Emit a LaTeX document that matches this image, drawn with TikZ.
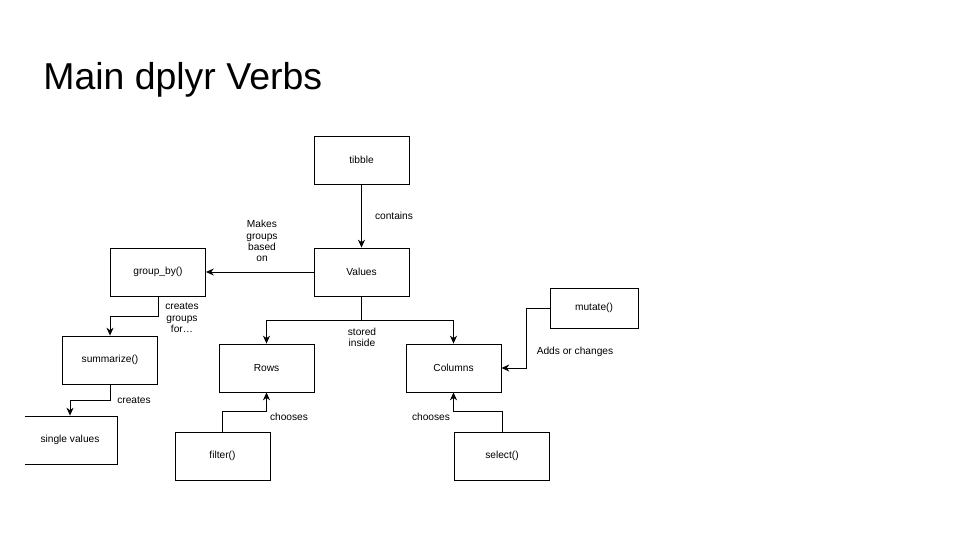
\documentclass[tikz,border=0pt]{standalone}
\usepackage{fontspec}
\setmainfont{Liberation Sans}
\usetikzlibrary{arrows.meta,positioning,calc}

\tikzset{
  verb/.style={draw, line width=0.5pt, minimum width=1.9cm, minimum height=0.96cm, inner sep=0pt, font=\fontsize{5.8}{7}\selectfont},
  lbl/.style={align=center, inner sep=0pt, font=\fontsize{5.8}{6.4}\selectfont},
  link/.style={line width=0.5pt, -{Stealth[length=4.5pt,width=4pt]}}
}

\begin{document}
\begin{tikzpicture}[x=0.02cm,y=-0.02cm]
\useasboundingbox (0,0) rectangle (960,540);

\node[anchor=west, inner sep=0pt, font=\fontsize{21.3}{24}\selectfont] (title) at (43,80) {Main dplyr Verbs};

\node[verb] (tib) at (361.5,160) {tibble};
\node[verb] (val) at (361.5,272) {Values};
\node[verb] (grp) at (158,272) {group\_by()};
\node[verb] (summ) at (110,360) {summarize()};
\node[verb] (rows) at (266.5,368) {Rows};
\node[verb] (cols) at (453.5,368) {Columns};
\node[verb] (filt) at (222.5,456) {filter()};
\node[verb] (sel) at (502,456) {select()};
\node[verb, minimum width=1.76cm, minimum height=0.8cm] (mut) at (594,308) {mutate()};

\begin{scope}
\clip (25,400) rectangle (200,480);
\node[verb] (single) at (70,440) {single values};
\end{scope}

\draw[link] (tib) -- (val);
\draw[link] (val) -- (grp);
\draw[link] (grp.south) -- ++(0,20) -| (summ.north);
\draw[link] (summ.south) -- ++(0,16) -| (single.north);
\draw[line width=0.5pt] (val.south) -- ++(0,24) coordinate (split);
\draw[link] (split) -| (rows.north);
\draw[link] (split) -| (cols.north);
\draw[link] (filt.north) -- ++(0,-20) -| (rows.south);
\draw[link] (sel.north) -- ++(0,-20) -| (cols.south);
\draw[link] (mut.west) -- ++(-23,0) |- (cols.east);

\node[lbl] (lcont) at (394,216) {contains};
\node[lbl] (lmake) at (262,241) {Makes\\groups\\based\\on};
\node[lbl] (lgrp) at (182,318) {creates\\groups\\for\ldots};
\node[lbl] (lcre) at (134,400) {creates};
\node[lbl] (lstor) at (362,337) {stored\\inside};
\node[lbl] (lch1) at (289,417) {chooses};
\node[lbl] (lch2) at (431,417) {chooses};
\node[lbl] (ladd) at (575,352) {Adds or changes};
\end{tikzpicture}
\end{document}
